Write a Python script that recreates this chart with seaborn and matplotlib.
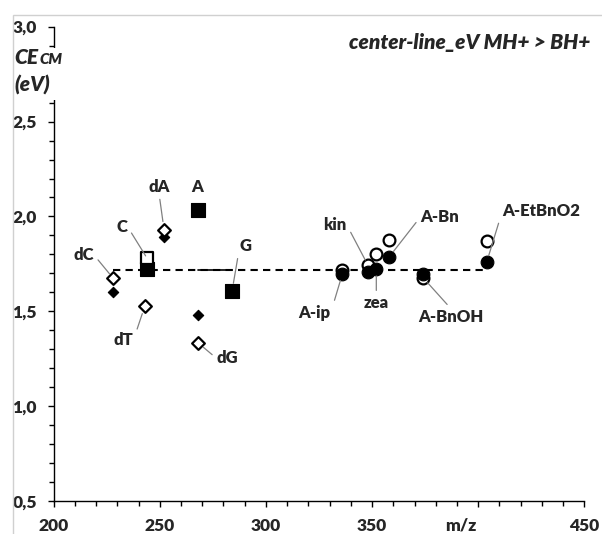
import numpy as np
import pandas as pd
import seaborn as sns
import matplotlib.pyplot as plt
from matplotlib.patches import Rectangle
from matplotlib.ticker import MultipleLocator

# 2'-deoxynucleosides (diamonds)
dnuc_names = ['dC', 'dT', 'dA', 'dG']
dnuc_mz = [228, 243, 252, 268]
dnuc_mh = [1.675, 1.53, 1.93, 1.335]      # MH+  (open)
dnuc_bh = [1.60, np.nan, 1.89, 1.48]      # BH+  (filled)

# ribonucleosides (squares)
rnuc_names = ['C', 'A', 'G']
rnuc_mz = [244, 268, 284]
rnuc_mh = [1.78, np.nan, np.nan]
rnuc_bh = [1.725, 2.035, 1.605]

# adenosine derivatives / cytokinins (circles)
cyt_names = ['A-ip', 'kin', 'zea', 'A-Bn', 'A-BnOH', 'A-EtBnO2']
cyt_mz = [336, 348, 352, 358, 374, 404]
cyt_mh = [1.72, 1.745, 1.80, 1.875, 1.678, 1.87]
cyt_bh = [1.697, 1.707, 1.723, 1.786, 1.696, 1.759]

# center line
center_mz = [228, 404]
center_ce = [1.72, 1.72]

xticks = [200, 250, 300, 350, 400, 450]
xtick_labels = ['200', '250', '300', '350', '', '450']
yticks = [0.5, 1.0, 1.5, 2.0, 2.5, 3.0]
ytick_labels = ['0,5', '1,0', '1,5', '2,0', '2,5', '3,0']


def to_long(names, mz, mh, bh, shape):
    a = pd.DataFrame({'name': names, 'mz': mz, 'ce': mh, 'ion': 'MH+', 'shape': shape})
    b = pd.DataFrame({'name': names, 'mz': mz, 'ce': bh, 'ion': 'BH+', 'shape': shape})
    return pd.concat([a, b]).dropna()


df = pd.concat([to_long(dnuc_names, dnuc_mz, dnuc_mh, dnuc_bh, 'D'),
                to_long(rnuc_names, rnuc_mz, rnuc_mh, rnuc_bh, 's'),
                to_long(cyt_names, cyt_mz, cyt_mh, cyt_bh, 'o')])

sns.set_style('ticks')
plt.rcParams['font.family'] = ['Lato', 'DejaVu Sans']
W = 'heavy'

fig = plt.figure(figsize=(6.02, 5.34), dpi=100)
ax = fig.add_axes([0.0892, 0.0612, 0.8814, 0.889])

# light chart-area border (Excel style)
fig.patches.append(Rectangle((0.021, -0.2), 1.2, 1.2 - 15 / 534, transform=fig.transFigure,
                             fill=False, edgecolor='#d0d0d0', lw=1))

# center line
sns.lineplot(x=center_mz, y=center_ce, ax=ax, color='black', lw=1.5,
             dashes=False, linestyle=(0, (3.5, 2.5)), zorder=2)
ax.plot([rnuc_mz[1], rnuc_mz[2]], center_ce, color='black', lw=1.2, zorder=2)

sizes = {('D', 'MH+'): 42, ('D', 'BH+'): 28,
         ('s', 'MH+'): 82, ('s', 'BH+'): 105,
         ('o', 'MH+'): 72, ('o', 'BH+'): 84}
order = [('D', 'BH+'), ('D', 'MH+'), ('s', 'BH+'), ('s', 'MH+'), ('o', 'MH+'), ('o', 'BH+')]
for z, (shape, ion) in enumerate(order):
    sub = df[(df['shape'] == shape) & (df['ion'] == ion)]
    fc = 'white' if ion == 'MH+' else 'black'
    sns.scatterplot(data=sub, x='mz', y='ce', ax=ax, marker=shape, s=sizes[(shape, ion)],
                    color=fc, edgecolor='black', linewidth=1.6 if ion == 'MH+' else 0.8,
                    legend=False, zorder=3 + z)

# data labels with leader lines
lab_kw = dict(fontsize=12, fontweight=W, ha='center', va='center', zorder=12)
lead = dict(arrowstyle='-', color='#808080', lw=0.9, shrinkA=1)
labels = [
    ('dA', dnuc_mz[2], dnuc_mh[2], 249.7, 2.157, (0.5, 0), 6),
    ('C', rnuc_mz[0], rnuc_mh[0], 232.2, 1.947, (1, 0.5), 2),
    ('dC', dnuc_mz[0], dnuc_mh[0], 214.1, 1.798, (1, 0.5), 4),
    ('dT', dnuc_mz[1], dnuc_mh[1], 232.9, 1.349, (1, 0.5), 6),
    ('G', rnuc_mz[2], rnuc_bh[2], 290.5, 1.845, (0, 0.5), 6),
    ('dG', dnuc_mz[3], dnuc_mh[3], 281.8, 1.253, (0, 0.5), 5),
    ('kin', cyt_mz[1], cyt_mh[1], 332.6, 1.956, (1, 0.5), 4),
    ('A-Bn', cyt_mz[3], cyt_bh[3], 381.8, 1.996, (0, 0.5), 5),
    ('zea', cyt_mz[2], cyt_bh[2], 352.0, 1.544, (0.5, 1), 5),
    ('A-ip', cyt_mz[0], cyt_bh[0], 323.0, 1.494, (1, 0.5), 5),
    ('A-BnOH', cyt_mz[4], cyt_mh[4], 387.2, 1.472, (0.5, 1), 5),
    ('A-EtBnO2', cyt_mz[5], cyt_bh[5], 429.7, 2.028, (0, 0.5), 5),
]
for name, px, py, tx, ty, rp, sb in labels:
    ax.annotate(name, xy=(px, py), xytext=(tx, ty), textcoords='data',
                arrowprops=dict(lead, relpos=rp, shrinkB=sb), **lab_kw)
ax.text(267.8, 2.153, 'A', **lab_kw)

# axes styling
ax.set_xlim(200, 450)
ax.set_ylim(0.5, 3.0)
ax.set_xticks(xticks)
ax.set_xticklabels(xtick_labels)
ax.set_yticks(yticks)
ax.set_yticklabels(ytick_labels)
ax.xaxis.set_minor_locator(MultipleLocator(10))
ax.yaxis.set_minor_locator(MultipleLocator(0.1))
ax.tick_params(which='both', direction='out', color='black', width=1)
ax.tick_params(which='major', length=4, labelsize=12.5)
ax.tick_params(which='minor', length=3.5)
ax.tick_params(axis='x', pad=8)
ax.tick_params(axis='y', pad=8)
for t in ax.get_xticklabels() + ax.get_yticklabels():
    t.set_fontweight(W)
for sp in ['left', 'bottom']:
    ax.spines[sp].set_color('black')
    ax.spines[sp].set_linewidth(1)
sns.despine(ax=ax)
ax.set_xlabel('m/z', fontsize=12.5, fontweight=W)
ax.xaxis.set_label_coords(0.768, -0.034)
ax.xaxis.label.set_va('top')
ax.set_ylabel('')

# gap in the y axis behind the axis title
ax.add_patch(Rectangle((-0.025, 2.615), 0.04, 0.27, transform=ax.get_yaxis_transform(),
                       facecolor='white', edgecolor='none', clip_on=False, zorder=20))

# axis title CE_CM (eV)
ce = fig.text(0.0243, 0.880, 'CE', fontsize=15, fontweight=W, style='italic',
              ha='left', va='baseline', zorder=30)
fig.canvas.draw()
bb = ce.get_window_extent().transformed(fig.transFigure.inverted())
fig.text(bb.x1 + 0.002, 0.880, 'CM', fontsize=11, fontweight=W, style='italic',
         ha='left', va='baseline', zorder=30)
fig.text(0.0243, 0.829, '(eV)', fontsize=15, fontweight=W, style='italic',
         ha='left', va='baseline', zorder=30)

# chart title
fig.text(0.980, 0.920, 'center-line_eV MH+ > BH+', fontsize=15, fontweight=W,
         style='italic', ha='right', va='center')

fig.savefig('out.png', dpi=100)
